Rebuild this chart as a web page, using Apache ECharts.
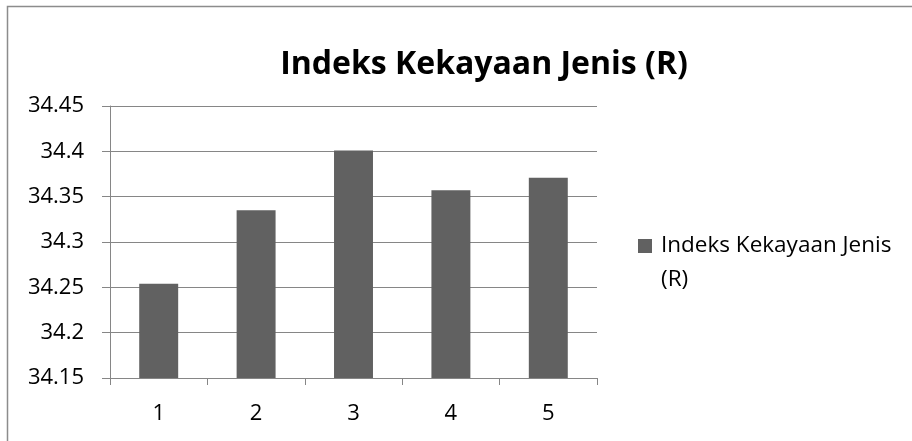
<!DOCTYPE html>
<html>
<head>
<meta charset="utf-8">
<script src="https://cdn.jsdelivr.net/npm/echarts@6/dist/echarts.min.js"></script>
<style>
  html, body { margin: 0; padding: 0; background: #fff; }
  #chart { width: 912px; height: 441px; }
</style>
</head>
<body>
<div id="chart"></div>
<script>
// Species richness index per station
const categories = ['1', '2', '3', '4', '5'];
const richness = [34.254, 34.335, 34.401, 34.357, 34.371];
const seriesName = 'Indeks Kekayaan Jenis\n(R)';
const titleText = 'Indeks Kekayaan Jenis (R)';

const FONT = '"Open Sans", "Liberation Sans", sans-serif';
const chart = echarts.init(document.getElementById('chart'), null, { renderer: 'canvas' });

chart.setOption({
  animation: false,
  backgroundColor: '#ffffff',
  title: {
    text: titleText,
    left: 479,
    top: 44,
    textAlign: 'center',
    textStyle: { fontFamily: FONT, fontSize: 32, fontWeight: 'bold', color: '#000' }
  },
  legend: {
    data: [seriesName],
    left: 638,
    top: 195,
    padding: 0,
    icon: 'rect',
    itemWidth: 14,
    itemHeight: 14,
    // blank first line keeps the swatch level with the first text line
    formatter: name => ' \n' + name,
    textStyle: { fontFamily: FONT, fontSize: 22.5, lineHeight: 34, color: '#000', padding: [0, 0, 0, 4] }
  },
  grid: { left: 110, right: 315, top: 106, bottom: 63, containLabel: false },
  xAxis: {
    type: 'category',
    data: categories,
    axisLine: { lineStyle: { color: '#868686', width: 1 } },
    axisTick: { show: true, length: 7, lineStyle: { color: '#868686' } },
    axisLabel: { fontFamily: FONT, fontSize: 22, color: '#000', margin: 25 }
  },
  yAxis: {
    type: 'value',
    min: 34.15,
    max: 34.45,
    interval: 0.05,
    axisLine: { show: true, lineStyle: { color: '#868686', width: 1 } },
    axisTick: { show: true, length: 8, lineStyle: { color: '#868686' } },
    splitLine: { lineStyle: { color: '#868686', width: 1 } },
    axisLabel: {
      fontFamily: FONT, fontSize: 22, color: '#000', margin: 26,
      formatter: v => String(parseFloat(v.toFixed(2)))
    }
  },
  series: [{
    name: seriesName,
    type: 'bar',
    data: richness,
    barWidth: '40%',
    itemStyle: { color: '#616161' }
  }],
  graphic: [{
    type: 'rect',
    shape: { x: 7.5, y: 6.5, width: 1000, height: 1000 },
    style: { fill: 'none', stroke: '#8c8c8c', lineWidth: 1.5 },
    silent: true
  }]
});
</script>
</body>
</html>
